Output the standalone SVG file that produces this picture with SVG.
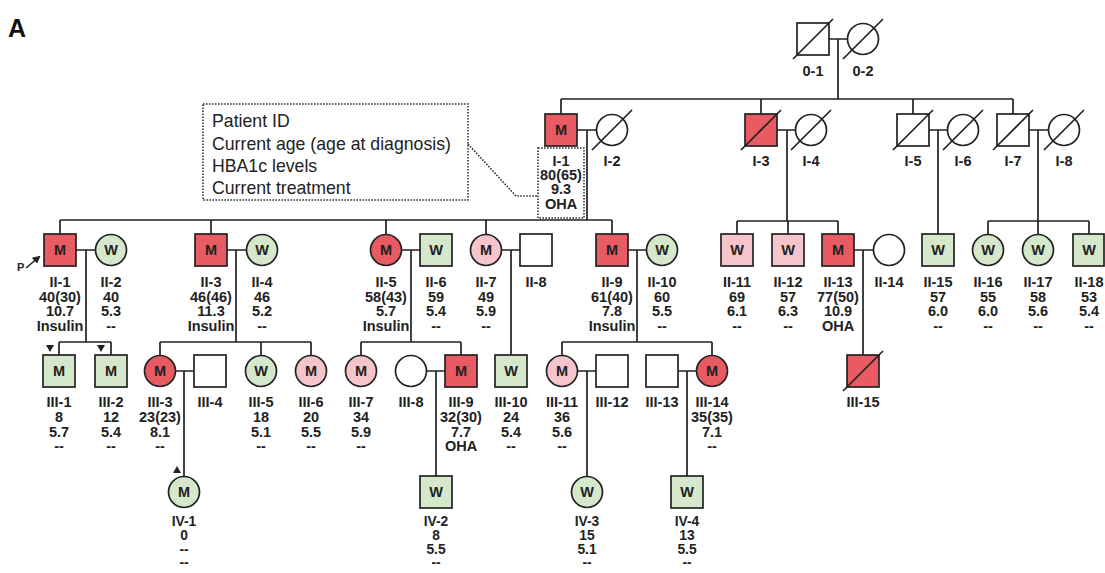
<svg xmlns="http://www.w3.org/2000/svg" width="1105" height="573" viewBox="0 0 1105 573">
<style>
.ln{fill:none;stroke:#222;stroke-width:1.7}
.nd{stroke:#222;stroke-width:1.7}
.r{fill:#e95b62}.p{fill:#f6c5cb}.g{fill:#d6e8cb}.w{fill:#fff}
.sl{stroke:#222;stroke-width:1.7}
.t{font-family:"Liberation Sans",Arial,sans-serif;font-weight:bold;font-size:14.5px;fill:#222;text-anchor:middle}
.t4{font-family:"Liberation Sans",Arial,sans-serif;font-weight:bold;font-size:13.8px;fill:#222;text-anchor:middle}
.lg{font-family:"Liberation Sans",Arial,sans-serif;font-size:17.7px;fill:#222}
.dot{fill:none;stroke:#333;stroke-width:1.6;stroke-dasharray:1.6 1.4}
.tri{fill:#222}
</style>
<defs>
<marker id="ah" markerWidth="8" markerHeight="8" refX="6" refY="4" orient="auto" markerUnits="userSpaceOnUse">
<path d="M0,0 L8,4 L0,8 Z" fill="#222"/>
</marker>
</defs>
<text x="8" y="37" style="font-family:'Liberation Sans',Arial,sans-serif;font-weight:bold;font-size:25px;fill:#111">A</text>

<g id="legend">
<rect class="dot" x="203" y="104" width="265" height="96"/>
<text class="lg" x="212" y="127">Patient ID</text>
<text class="lg" x="212" y="150">Current age (age at diagnosis)</text>
<text class="lg" x="212" y="172">HBA1c levels</text>
<text class="lg" x="212" y="194">Current treatment</text>
<path class="dot" d="M468 144 L516 196 H538"/>
<rect class="dot" x="538" y="148" width="46" height="70"/>
</g>

<g id="connectors">
<path class="ln" d="M829 39 H847.5 M838 39 V99 M561 99 H1013 M561 99 V114 M761 99 V114 M913 99 V114 M1013 99 V114"/>
<path class="ln" d="M577 130 H596.5 M587 130 V220 M777 130 H795.5 M787 130 V221 M929 130 H947.5 M938 130 V234 M1029 130 H1048.5 M1038 130 V234.5"/>
<path class="ln" d="M60 220 H612 M60 220 V234 M211 220 V234 M386 220 V234.5 M486 220 V234.5 M612 220 V234"/>
<path class="ln" d="M737 221 H838 M737 221 V234 M788 221 V234 M838 221 V234 M988 221 H1089 M988 221 V234.5 M1089 221 V234"/>
<path class="ln" d="M76 250 H95.5 M86 250 V342 M227 250 H246.5 M236 250 V342 M401.5 250 H420 M411 250 V342 M501.5 250 H520 M511 250 V355 M628 250 H646.5 M637 250 V342 M854 250 H873.5 M863 250 V355"/>
<path class="ln" d="M59 342 H111 M59 342 V355 M111 342 V355 M160 342 H311 M160 342 V355.5 M261 342 V355.5 M311 342 V355.5 M361 342 H461 M361 342 V355.5 M461 342 V355 M562 342 H712 M562 342 V355.5 M712 342 V355.5"/>
<path class="ln" d="M175.5 371 H194 M184 371 V476.5 M426.5 371 H445 M436 371 V476 M577.5 371 H596 M587 371 V476.5 M678 371 H696.5 M687 371 V476"/>
</g>

<g id="marks">
<path class="tri" d="M46 345 H54 L50 352 Z"/>
<path class="tri" d="M97 345 H105 L101 352 Z"/>
<path class="tri" d="M173 473 H181 L177 466 Z"/>
<text x="17" y="271" style="font-family:'Liberation Sans',Arial,sans-serif;font-weight:bold;font-size:11px;fill:#222">P</text>
<line x1="26" y1="268" x2="39" y2="257" stroke="#222" stroke-width="1.6" marker-end="url(#ah)"/>
</g>

<!-- Generation 0 -->
<g id="n0-1"><rect class="nd w" x="797" y="23" width="32" height="32"/><line class="sl" x1="793" y1="59" x2="833" y2="19"/><text class="t" x="813" y="76">0-1</text></g>
<g id="n0-2"><circle class="nd w" cx="863" cy="39" r="15.5"/><line class="sl" x1="843" y1="59" x2="883" y2="19"/><text class="t" x="863" y="76">0-2</text></g>

<!-- Generation I -->
<g id="nI-1"><rect class="nd r" x="545" y="114" width="32" height="32"/><text class="t" x="561" y="135">M</text>
<text class="t" x="561" y="166"><tspan x="561">I-1</tspan><tspan x="561" dy="14.2">80(65)</tspan><tspan x="561" dy="14.2">9.3</tspan><tspan x="561" dy="14.2">OHA</tspan></text></g>
<g id="nI-2"><circle class="nd w" cx="612" cy="130" r="15.5"/><line class="sl" x1="592" y1="150" x2="632" y2="110"/><text class="t" x="612" y="166">I-2</text></g>
<g id="nI-3"><rect class="nd r" x="745" y="114" width="32" height="32"/><line class="sl" x1="741" y1="150" x2="781" y2="110"/><text class="t" x="761" y="166">I-3</text></g>
<g id="nI-4"><circle class="nd w" cx="811" cy="130" r="15.5"/><line class="sl" x1="791" y1="150" x2="831" y2="110"/><text class="t" x="811" y="166">I-4</text></g>
<g id="nI-5"><rect class="nd w" x="897" y="114" width="32" height="32"/><line class="sl" x1="893" y1="150" x2="933" y2="110"/><text class="t" x="913" y="166">I-5</text></g>
<g id="nI-6"><circle class="nd w" cx="963" cy="130" r="15.5"/><line class="sl" x1="943" y1="150" x2="983" y2="110"/><text class="t" x="963" y="166">I-6</text></g>
<g id="nI-7"><rect class="nd w" x="997" y="114" width="32" height="32"/><line class="sl" x1="993" y1="150" x2="1033" y2="110"/><text class="t" x="1013" y="166">I-7</text></g>
<g id="nI-8"><circle class="nd w" cx="1064" cy="130" r="15.5"/><line class="sl" x1="1044" y1="150" x2="1084" y2="110"/><text class="t" x="1064" y="166">I-8</text></g>

<!-- Generation II -->
<g id="nII-1"><rect class="nd r" x="44" y="234" width="32" height="32"/><text class="t" x="60" y="255">M</text>
<text class="t" y="287"><tspan x="60">II-1</tspan><tspan x="60" dy="14.7">40(30)</tspan><tspan x="60" dy="14.7">10.7</tspan><tspan x="60" dy="14.7">Insulin</tspan></text></g>
<g id="nII-2"><circle class="nd g" cx="111" cy="250" r="15.5"/><text class="t" x="111" y="255">W</text>
<text class="t" y="287"><tspan x="111">II-2</tspan><tspan x="111" dy="14.7">40</tspan><tspan x="111" dy="14.7">5.3</tspan><tspan x="111" dy="14.7">--</tspan></text></g>
<g id="nII-3"><rect class="nd r" x="195" y="234" width="32" height="32"/><text class="t" x="211" y="255">M</text>
<text class="t" y="287"><tspan x="211">II-3</tspan><tspan x="211" dy="14.7">46(46)</tspan><tspan x="211" dy="14.7">11.3</tspan><tspan x="211" dy="14.7">Insulin</tspan></text></g>
<g id="nII-4"><circle class="nd g" cx="262" cy="250" r="15.5"/><text class="t" x="262" y="255">W</text>
<text class="t" y="287"><tspan x="262">II-4</tspan><tspan x="262" dy="14.7">46</tspan><tspan x="262" dy="14.7">5.2</tspan><tspan x="262" dy="14.7">--</tspan></text></g>
<g id="nII-5"><circle class="nd r" cx="386" cy="250" r="15.5"/><text class="t" x="386" y="255">M</text>
<text class="t" y="287"><tspan x="386">II-5</tspan><tspan x="386" dy="14.7">58(43)</tspan><tspan x="386" dy="14.7">5.7</tspan><tspan x="386" dy="14.7">Insulin</tspan></text></g>
<g id="nII-6"><rect class="nd g" x="420" y="234" width="32" height="32"/><text class="t" x="436" y="255">W</text>
<text class="t" y="287"><tspan x="436">II-6</tspan><tspan x="436" dy="14.7">59</tspan><tspan x="436" dy="14.7">5.4</tspan><tspan x="436" dy="14.7">--</tspan></text></g>
<g id="nII-7"><circle class="nd p" cx="486" cy="250" r="15.5"/><text class="t" x="486" y="255">M</text>
<text class="t" y="287"><tspan x="486">II-7</tspan><tspan x="486" dy="14.7">49</tspan><tspan x="486" dy="14.7">5.9</tspan><tspan x="486" dy="14.7">--</tspan></text></g>
<g id="nII-8"><rect class="nd w" x="520" y="234" width="32" height="32"/><text class="t" x="536" y="287">II-8</text></g>
<g id="nII-9"><rect class="nd r" x="596" y="234" width="32" height="32"/><text class="t" x="612" y="255">M</text>
<text class="t" y="287"><tspan x="612">II-9</tspan><tspan x="612" dy="14.7">61(40)</tspan><tspan x="612" dy="14.7">7.8</tspan><tspan x="612" dy="14.7">Insulin</tspan></text></g>
<g id="nII-10"><circle class="nd g" cx="662" cy="250" r="15.5"/><text class="t" x="662" y="255">W</text>
<text class="t" y="287"><tspan x="662">II-10</tspan><tspan x="662" dy="14.7">60</tspan><tspan x="662" dy="14.7">5.5</tspan><tspan x="662" dy="14.7">--</tspan></text></g>
<g id="nII-11"><rect class="nd p" x="721" y="234" width="32" height="32"/><text class="t" x="737" y="255">W</text>
<text class="t" y="287"><tspan x="737">II-11</tspan><tspan x="737" dy="14.7">69</tspan><tspan x="737" dy="14.7">6.1</tspan><tspan x="737" dy="14.7">--</tspan></text></g>
<g id="nII-12"><rect class="nd p" x="772" y="234" width="32" height="32"/><text class="t" x="788" y="255">W</text>
<text class="t" y="287"><tspan x="788">II-12</tspan><tspan x="788" dy="14.7">57</tspan><tspan x="788" dy="14.7">6.3</tspan><tspan x="788" dy="14.7">--</tspan></text></g>
<g id="nII-13"><rect class="nd r" x="822" y="234" width="32" height="32"/><text class="t" x="838" y="255">M</text>
<text class="t" y="287"><tspan x="838">II-13</tspan><tspan x="838" dy="14.7">77(50)</tspan><tspan x="838" dy="14.7">10.9</tspan><tspan x="838" dy="14.7">OHA</tspan></text></g>
<g id="nII-14"><circle class="nd w" cx="889" cy="250" r="15.5"/><text class="t" x="889" y="287">II-14</text></g>
<g id="nII-15"><rect class="nd g" x="922" y="234" width="32" height="32"/><text class="t" x="938" y="255">W</text>
<text class="t" y="287"><tspan x="938">II-15</tspan><tspan x="938" dy="14.7">57</tspan><tspan x="938" dy="14.7">6.0</tspan><tspan x="938" dy="14.7">--</tspan></text></g>
<g id="nII-16"><circle class="nd g" cx="988" cy="250" r="15.5"/><text class="t" x="988" y="255">W</text>
<text class="t" y="287"><tspan x="988">II-16</tspan><tspan x="988" dy="14.7">55</tspan><tspan x="988" dy="14.7">6.0</tspan><tspan x="988" dy="14.7">--</tspan></text></g>
<g id="nII-17"><circle class="nd g" cx="1038" cy="250" r="15.5"/><text class="t" x="1038" y="255">W</text>
<text class="t" y="287"><tspan x="1038">II-17</tspan><tspan x="1038" dy="14.7">58</tspan><tspan x="1038" dy="14.7">5.6</tspan><tspan x="1038" dy="14.7">--</tspan></text></g>
<g id="nII-18"><rect class="nd g" x="1073" y="234" width="31" height="32"/><text class="t" x="1089" y="255">W</text>
<text class="t" y="287"><tspan x="1089">II-18</tspan><tspan x="1089" dy="14.7">53</tspan><tspan x="1089" dy="14.7">5.4</tspan><tspan x="1089" dy="14.7">--</tspan></text></g>

<!-- Generation III -->
<g id="nIII-1"><rect class="nd g" x="43" y="355" width="32" height="32"/><text class="t" x="59" y="376">M</text>
<text class="t" y="407"><tspan x="59">III-1</tspan><tspan x="59" dy="14.8">8</tspan><tspan x="59" dy="14.8">5.7</tspan><tspan x="59" dy="14.8">--</tspan></text></g>
<g id="nIII-2"><rect class="nd g" x="95" y="355" width="32" height="32"/><text class="t" x="111" y="376">M</text>
<text class="t" y="407"><tspan x="111">III-2</tspan><tspan x="111" dy="14.8">12</tspan><tspan x="111" dy="14.8">5.4</tspan><tspan x="111" dy="14.8">--</tspan></text></g>
<g id="nIII-3"><circle class="nd r" cx="160" cy="371" r="15.5"/><text class="t" x="160" y="376">M</text>
<text class="t" y="407"><tspan x="160">III-3</tspan><tspan x="160" dy="14.8">23(23)</tspan><tspan x="160" dy="14.8">8.1</tspan><tspan x="160" dy="14.8">--</tspan></text></g>
<g id="nIII-4"><rect class="nd w" x="194" y="355" width="32" height="32"/><text class="t" x="210" y="407">III-4</text></g>
<g id="nIII-5"><circle class="nd g" cx="261" cy="371" r="15.5"/><text class="t" x="261" y="376">W</text>
<text class="t" y="407"><tspan x="261">III-5</tspan><tspan x="261" dy="14.8">18</tspan><tspan x="261" dy="14.8">5.1</tspan><tspan x="261" dy="14.8">--</tspan></text></g>
<g id="nIII-6"><circle class="nd p" cx="311" cy="371" r="15.5"/><text class="t" x="311" y="376">M</text>
<text class="t" y="407"><tspan x="311">III-6</tspan><tspan x="311" dy="14.8">20</tspan><tspan x="311" dy="14.8">5.5</tspan><tspan x="311" dy="14.8">--</tspan></text></g>
<g id="nIII-7"><circle class="nd p" cx="361" cy="371" r="15.5"/><text class="t" x="361" y="376">M</text>
<text class="t" y="407"><tspan x="361">III-7</tspan><tspan x="361" dy="14.8">34</tspan><tspan x="361" dy="14.8">5.9</tspan><tspan x="361" dy="14.8">--</tspan></text></g>
<g id="nIII-8"><circle class="nd w" cx="411" cy="371" r="15.5"/><text class="t" x="411" y="407">III-8</text></g>
<g id="nIII-9"><rect class="nd r" x="445" y="355" width="32" height="32"/><text class="t" x="461" y="376">M</text>
<text class="t" y="407"><tspan x="461">III-9</tspan><tspan x="461" dy="14.8">32(30)</tspan><tspan x="461" dy="14.8">7.7</tspan><tspan x="461" dy="14.8">OHA</tspan></text></g>
<g id="nIII-10"><rect class="nd g" x="495" y="355" width="32" height="32"/><text class="t" x="511" y="376">W</text>
<text class="t" y="407"><tspan x="511">III-10</tspan><tspan x="511" dy="14.8">24</tspan><tspan x="511" dy="14.8">5.4</tspan><tspan x="511" dy="14.8">--</tspan></text></g>
<g id="nIII-11"><circle class="nd p" cx="562" cy="371" r="15.5"/><text class="t" x="562" y="376">M</text>
<text class="t" y="407"><tspan x="562">III-11</tspan><tspan x="562" dy="14.8">36</tspan><tspan x="562" dy="14.8">5.6</tspan><tspan x="562" dy="14.8">--</tspan></text></g>
<g id="nIII-12"><rect class="nd w" x="596" y="355" width="32" height="32"/><text class="t" x="612" y="407">III-12</text></g>
<g id="nIII-13"><rect class="nd w" x="646" y="355" width="32" height="32"/><text class="t" x="662" y="407">III-13</text></g>
<g id="nIII-14"><circle class="nd r" cx="712" cy="371" r="15.5"/><text class="t" x="712" y="376">M</text>
<text class="t" y="407"><tspan x="712">III-14</tspan><tspan x="712" dy="14.8">35(35)</tspan><tspan x="712" dy="14.8">7.1</tspan><tspan x="712" dy="14.8">--</tspan></text></g>
<g id="nIII-15"><rect class="nd r" x="847" y="355" width="32" height="32"/><line class="sl" x1="843" y1="391" x2="883" y2="351"/><text class="t" x="863" y="407">III-15</text></g>

<!-- Generation IV -->
<g id="nIV-1"><circle class="nd g" cx="184" cy="492" r="15.5"/><text class="t" x="184" y="497">M</text>
<text class="t4" y="526"><tspan x="184">IV-1</tspan><tspan x="184" dy="13.8">0</tspan><tspan x="184" dy="13.8">--</tspan><tspan x="184" dy="13.8">--</tspan></text></g>
<g id="nIV-2"><rect class="nd g" x="420" y="476" width="32" height="32"/><text class="t" x="436" y="497">W</text>
<text class="t4" y="526"><tspan x="436">IV-2</tspan><tspan x="436" dy="13.8">8</tspan><tspan x="436" dy="13.8">5.5</tspan><tspan x="436" dy="13.8">--</tspan></text></g>
<g id="nIV-3"><circle class="nd g" cx="587" cy="492" r="15.5"/><text class="t" x="587" y="497">W</text>
<text class="t4" y="526"><tspan x="587">IV-3</tspan><tspan x="587" dy="13.8">15</tspan><tspan x="587" dy="13.8">5.1</tspan><tspan x="587" dy="13.8">--</tspan></text></g>
<g id="nIV-4"><rect class="nd g" x="671" y="476" width="32" height="32"/><text class="t" x="687" y="497">W</text>
<text class="t4" y="526"><tspan x="687">IV-4</tspan><tspan x="687" dy="13.8">13</tspan><tspan x="687" dy="13.8">5.5</tspan><tspan x="687" dy="13.8">--</tspan></text></g>
</svg>
